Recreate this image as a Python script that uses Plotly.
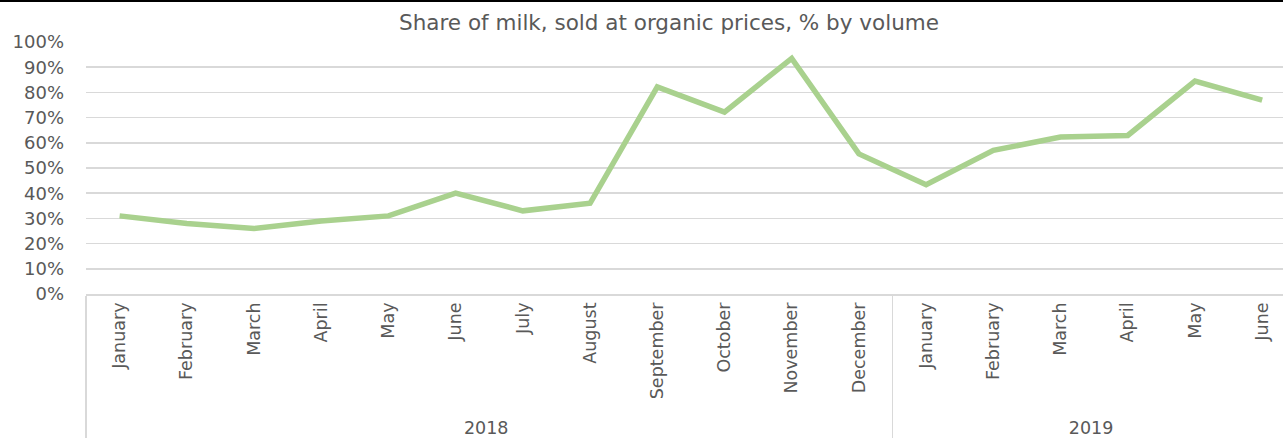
import plotly.graph_objects as go

years = ["2018"] * 12 + ["2019"] * 6
months = ["January", "February", "March", "April", "May", "June", "July", "August",
          "September", "October", "November", "December",
          "January", "February", "March", "April", "May", "June"]
share = [0.31, 0.28, 0.26, 0.29, 0.31, 0.40, 0.33, 0.36, 0.822, 0.722, 0.935, 0.556,
         0.434, 0.57, 0.623, 0.629, 0.845, 0.769]
y_ticks = [i / 10 for i in range(11)]

PLOT_W = 1283 - 86
PLOT_H = 438 - 42 - 144

fig = go.Figure()
fig.add_trace(go.Scatter(
    x=[years, months], y=share, mode="lines",
    line=dict(color="#a9d18e", width=5.5),
    hoverinfo="skip", showlegend=False,
))

fig.update_layout(
    width=1283, height=438,
    margin=dict(l=86, r=0, t=42, b=144, autoexpand=False),
    paper_bgcolor="white", plot_bgcolor="white",
    title=dict(text="Share of milk, sold at organic prices, % by volume",
               x=(669 - 86) / PLOT_W, xref="paper", xanchor="center",
               y=1 - 22 / 438, yanchor="middle",
               font=dict(family="DejaVu Sans", size=21.5, color="#595959")),
    xaxis=dict(
        type="multicategory", range=[-0.5, 17.31], automargin=False,
        tickangle=-90, tickfont=dict(family="DejaVu Sans", size=17.5, color="#595959"),
        showgrid=False, showline=True, linecolor="#d9d9d9", linewidth=1.5,
        ticks="", showdividers=True, dividercolor="#d9d9d9", dividerwidth=1.5,
    ),
    yaxis=dict(
        range=[0, 1.0], tickvals=y_ticks, tickformat=".0%", automargin=False,
        tickfont=dict(family="DejaVu Sans", size=18, color="#595959"),
        showgrid=True, gridcolor="#d9d9d9", gridwidth=1.5,
        zeroline=False, showline=False, ticks="", ticklabelstandoff=21,
    ),
    shapes=[dict(type="line", xref="paper", yref="paper",
                 x0=-86 / PLOT_W, x1=1,
                 y0=1 + 41 / PLOT_H, y1=1 + 41 / PLOT_H,
                 line=dict(color="black", width=2))],
)
fig.write_html(
    "out.html",
    config={"displayModeBar": False, "staticPlot": True},
    post_script="document.body.style.margin='0';document.body.style.overflow='hidden';",
)
